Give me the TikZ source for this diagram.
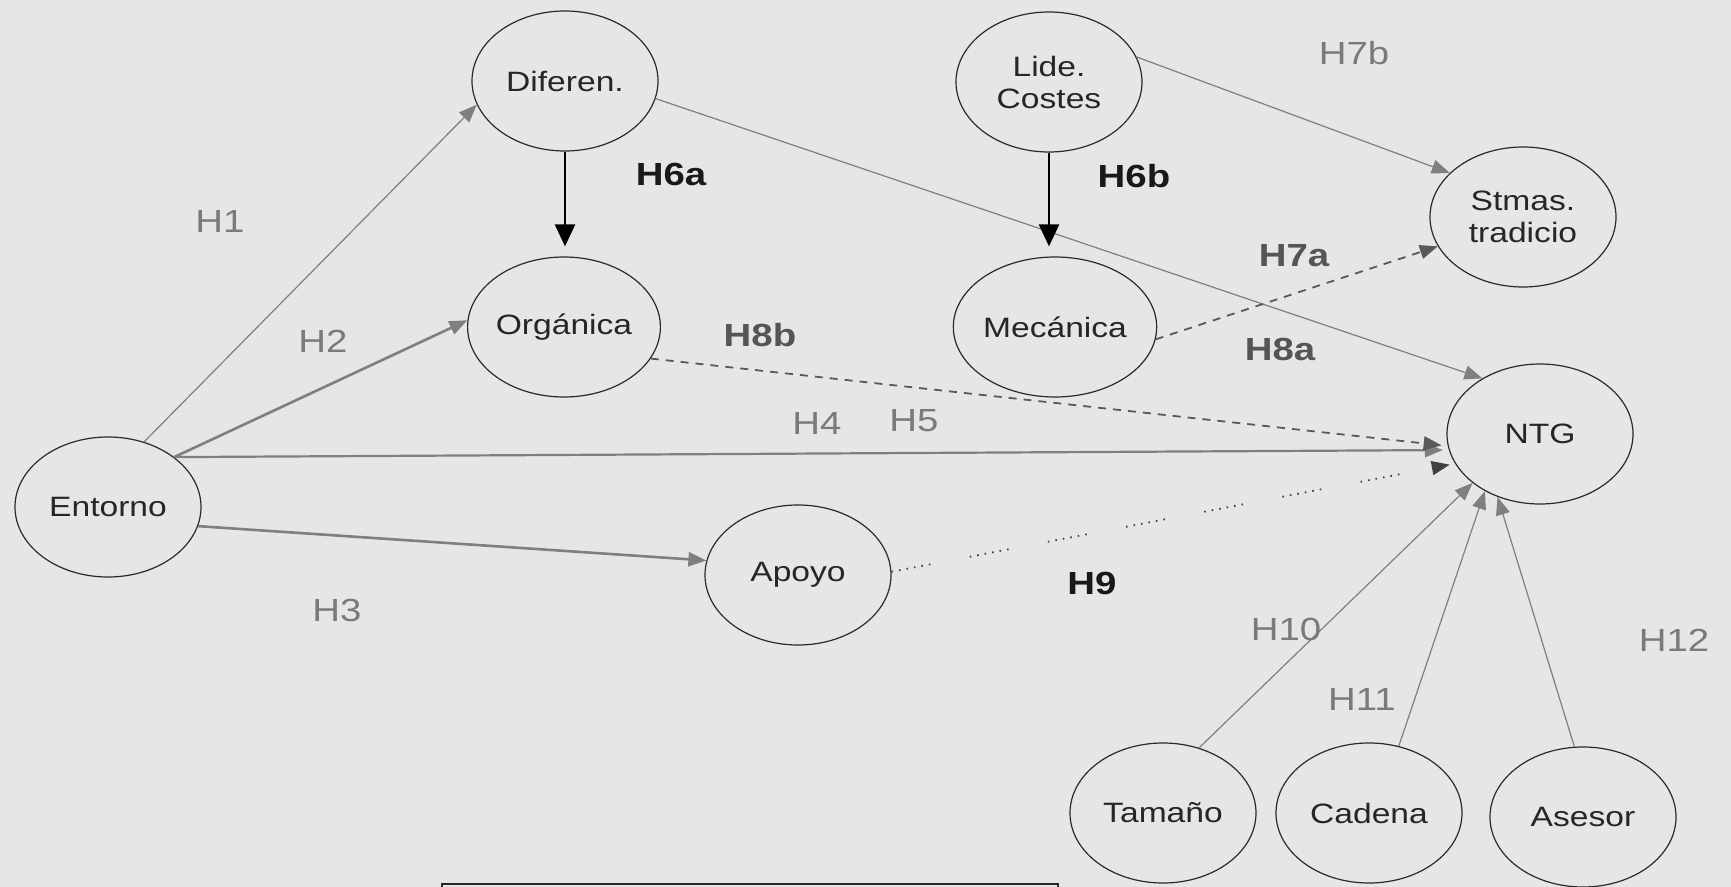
\documentclass[tikz,border=0pt]{standalone}
\usepackage{fontspec}
\setmainfont{Liberation Sans}[FakeStretch=1.2]
\usetikzlibrary{shapes.geometric,arrows.meta}
\definecolor{bg}{HTML}{E6E6E6}
\definecolor{edgegray}{HTML}{7F7F7F}
\definecolor{labgray}{HTML}{7A7A7A}
\definecolor{labdark}{HTML}{555555}
\definecolor{ringcol}{HTML}{2A2A2A}
\tikzset{
  var/.style={ellipse, draw=ringcol, line width=0.6pt, inner sep=0pt,
    minimum width=93pt, minimum height=70pt, align=center,
    text=black!85, font=\fontsize{14}{16}\selectfont},
  tip/.style={-{Triangle[length=9pt,width=7pt]}},
  garrow/.style={tip, draw=edgegray, line width=0.6pt},
  thickgarrow/.style={tip, draw=edgegray, line width=1.3pt},
  barrow/.style={-{Triangle[length=11pt,width=10pt]}, draw=black, line width=1.3pt},
  dasharrow/.style={tip, draw=black!65, line width=0.9pt, dash pattern=on 4pt off 3.5pt},
  dotarrow/.style={-{Triangle[length=9pt,width=7pt]}, draw=black!75, line width=0.9pt, dash pattern=on 0.8pt off 3pt on 0.8pt off 3pt on 0.8pt off 3pt on 0.8pt off 3pt on 0.8pt off 3pt on 0.8pt off 20pt},
  hlab/.style={text=labgray, font=\fontsize{16}{18}\selectfont},
  hbold/.style={text=labdark, font=\fontsize{16}{18}\selectfont\bfseries},
  hblack/.style={text=black!90, font=\fontsize{16}{18}\selectfont\bfseries},
}
\begin{document}
\begin{tikzpicture}[x=0.5pt,y=-0.5pt]
\useasboundingbox (0,0) rectangle (1731,887);
\fill[bg] (0,0) rectangle (1731,887);

% nodes
\node[var] (dif) at (565,81) {Diferen.};
\node[var] (org) at (564,327) {Orgánica};
\node[var] (lide) at (1049,82) {Lide.\\Costes};
\node[var] (mec) at (1055,327) {Mecánica};
\node[var] (stm) at (1523,217) {Stmas.\\tradicio};
\node[var] (ntg) at (1540,434) {NTG};
\node[var] (ent) at (108,507) {Entorno};
\node[var] (apo) at (798,575) {Apoyo};
\node[var] (tam) at (1163,813) {Tamaño};
\node[var] (cad) at (1369,813) {Cadena};
\node[var] (ase) at (1583,817) {Asesor};

% connectors
\draw[garrow] (ent.61) -- (dif.195);
\draw[thickgarrow] (ent.37) -- (org.176);
\draw[garrow, line width=1.1pt] (ent.37) -- ([xshift=-3pt]ntg.190);
\draw[thickgarrow] (ent.348) -- (apo.171);
\draw[dotarrow] (apo.2) -- ([xshift=-3pt]ntg.200);
\draw[dasharrow] (org.340) -- ([xshift=-3pt]ntg.187);
\draw[garrow] (dif.349) -- (ntg.136);
\draw[barrow] (dif.south) -- ([yshift=5pt]dif.south |- org.north);
\draw[barrow] (lide.south) -- ([yshift=5pt]lide.south |- mec.north);
\draw[garrow] (lide.16) -- (stm.149);
\draw[dasharrow] (mec.353) -- (stm.199);
\draw[garrow] (tam.61) -- (ntg.216);
\draw[garrow] (cad.66) -- (ntg.226);
\draw[garrow] (ase.97) -- (ntg.236);

% labels
\node[hlab] (h1) at (220,221) {H1};
\node[hlab] (h2) at (323,341) {H2};
\node[hlab] (h3) at (337,610) {H3};
\node[hlab] (h4) at (817,423) {H4};
\node[hlab] (h5) at (914,421) {H5};
\node[hblack] (h6a) at (671,174) {H6a};
\node[hblack] (h6b) at (1134,176) {H6b};
\node[hbold] (h7a) at (1294,256) {H7a};
\node[hlab] (h7b) at (1354,53) {H7b};
\node[hbold] (h8a) at (1280,349) {H8a};
\node[hbold] (h8b) at (760,335) {H8b};
\node[hblack] (h9) at (1092,583) {H9};
\node[hlab] (h10) at (1286,629) {H10};
\node[hlab] (h11) at (1362,699) {H11};
\node[hlab] (h12) at (1674,640) {H12};

% bottom box edge
\draw[black!85, line width=1.4pt] (442,895) -- (442,884) -- (1058,884) -- (1058,895);
\end{tikzpicture}
\end{document}
